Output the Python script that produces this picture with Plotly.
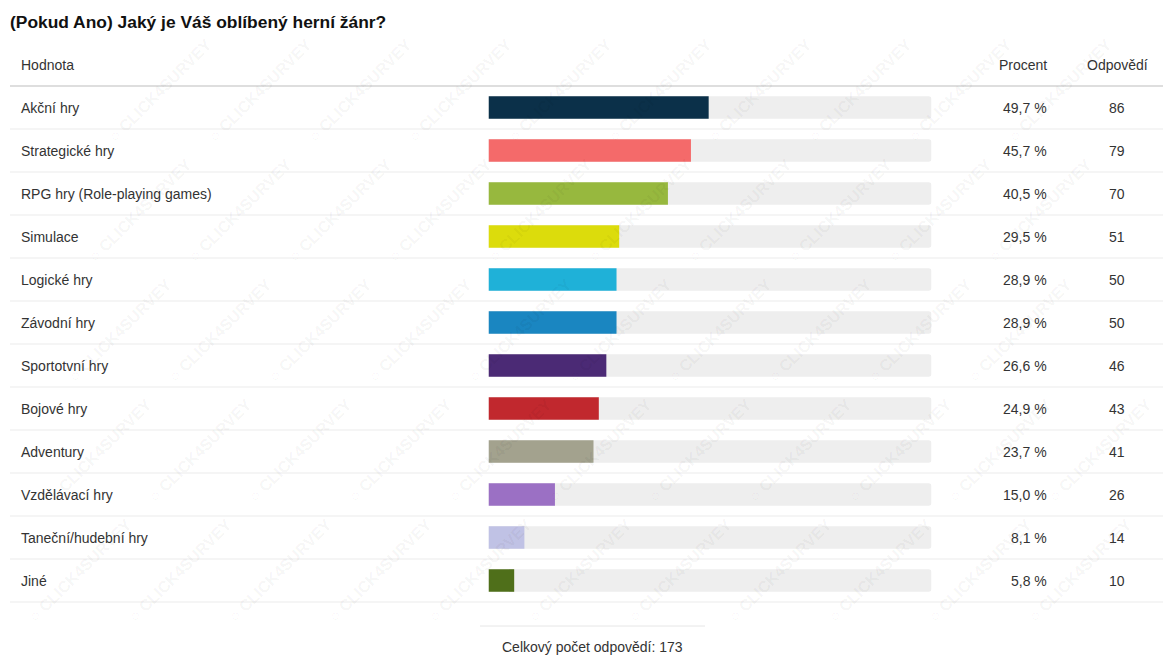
import plotly.graph_objects as go

# Survey results: favourite game genre
title = "(Pokud Ano) Jaký je Váš oblíbený herní žánr?"
categories = [
    "Akční hry",
    "Strategické hry",
    "RPG hry (Role-playing games)",
    "Simulace",
    "Logické hry",
    "Závodní hry",
    "Sportotvní hry",
    "Bojové hry",
    "Adventury",
    "Vzdělávací hry",
    "Taneční/hudební hry",
    "Jiné",
]
percent = [49.7, 45.7, 40.5, 29.5, 28.9, 28.9, 26.6, 24.9, 23.7, 15.0, 8.1, 5.8]
responses = [86, 79, 70, 51, 50, 50, 46, 43, 41, 26, 14, 10]
total_responses = 173
bar_colors = [
    "#0b3049", "#f46a6a", "#97b83e", "#dcdc0c", "#1fb1d8", "#1a86c1",
    "#4b2a75", "#c1282e", "#a3a28e", "#9b70c4", "#c0c2e5", "#4f6f1a",
]
col_headers = ["Hodnota", "Procent", "Odpovědí"]
watermark = "○ CLICK4SURVEY"

W, H = 1163, 657
FONT = "Liberation Sans, Arial, sans-serif"
TEXT = "#333333"
FS = 14


def px(x):
    return x / W


def py(y):
    return 1 - y / H


ROW_TOP, ROW_H = 86, 43
n = len(categories)

fig = go.Figure()

# grey track behind every bar (full 100 %)
fig.add_trace(go.Bar(
    y=categories, x=[100] * n, orientation="h",
    marker=dict(color="#eeeeee", cornerradius=3, line=dict(width=0)),
    width=0.525, hoverinfo="skip", showlegend=False,
))
# value bars
fig.add_trace(go.Bar(
    y=categories, x=percent, orientation="h",
    marker=dict(color=bar_colors, cornerradius=3, line=dict(width=0)),
    width=0.525, hoverinfo="skip", showlegend=False,
))

annotations = []
shapes = []

# faint diagonal watermark tiles, kept fully inside the page
for i in range(-10, 14):
    for j in range(-6, 18):
        cx = 20 + i * 120 + j * 100
        cy = 330 - i * 120
        if 62 <= cx <= W - 62 and 62 <= cy <= H - 62:
            annotations.append(dict(
                x=px(cx), y=py(cy), xref="paper", yref="paper",
                text=f"<b>{watermark}</b>", showarrow=False, textangle=-45,
                font=dict(family=FONT, size=16, color="rgba(0,0,0,0.05)"),
                xanchor="center", yanchor="middle",
            ))

# title
annotations.append(dict(
    x=px(8), y=py(22), xref="paper", yref="paper", text=f"<b>{title}</b>",
    showarrow=False, xanchor="left", yanchor="middle",
    font=dict(family=FONT, size=17.4, color="#111111"),
))
# column headers
annotations.append(dict(
    x=px(19), y=py(65), xref="paper", yref="paper", text=col_headers[0],
    showarrow=False, xanchor="left", yanchor="middle",
    font=dict(family=FONT, size=FS, color=TEXT),
))
annotations.append(dict(
    x=px(1049), y=py(65), xref="paper", yref="paper", text=col_headers[1],
    showarrow=False, xanchor="right", yanchor="middle",
    font=dict(family=FONT, size=FS, color=TEXT),
))
annotations.append(dict(
    x=px(1117), y=py(65), xref="paper", yref="paper", text=col_headers[2],
    showarrow=False, xanchor="center", yanchor="middle",
    font=dict(family=FONT, size=FS, color=TEXT),
))

# row texts
for cat, p, r in zip(categories, percent, responses):
    annotations.append(dict(
        x=px(19), y=cat, xref="paper", yref="y", text=cat,
        showarrow=False, xanchor="left", yanchor="middle",
        font=dict(family=FONT, size=FS, color=TEXT),
    ))
    annotations.append(dict(
        x=px(1049), y=cat, xref="paper", yref="y",
        text=f"{p:.1f}".replace(".", ",") + " %",
        showarrow=False, xanchor="right", yanchor="middle",
        font=dict(family=FONT, size=FS, color=TEXT),
    ))
    annotations.append(dict(
        x=px(1117), y=cat, xref="paper", yref="y", text=str(r),
        showarrow=False, xanchor="center", yanchor="middle",
        font=dict(family=FONT, size=FS, color=TEXT),
    ))

# footer total
annotations.append(dict(
    x=px(592), y=py(647), xref="paper", yref="paper",
    text=f"Celkový počet odpovědí: {total_responses}",
    showarrow=False, xanchor="center", yanchor="middle",
    font=dict(family=FONT, size=FS, color=TEXT),
))

# header rule and row separators
shapes.append(dict(type="line", xref="paper", yref="paper",
                   x0=px(10), x1=px(1163), y0=py(86), y1=py(86),
                   line=dict(color="#dedede", width=2)))
for k in range(1, n + 1):
    yy = ROW_TOP + k * ROW_H
    shapes.append(dict(type="line", xref="paper", yref="paper",
                       x0=px(10), x1=px(1163), y0=py(yy), y1=py(yy),
                       line=dict(color="#ebebeb", width=1)))
# short rule above the total
shapes.append(dict(type="line", xref="paper", yref="paper",
                   x0=px(480), x1=px(705), y0=py(626), y1=py(626),
                   line=dict(color="#e6e6e6", width=1)))

fig.update_layout(
    width=W, height=H,
    margin=dict(l=0, r=0, t=0, b=0),
    paper_bgcolor="white", plot_bgcolor="rgba(0,0,0,0)",
    barmode="overlay",
    xaxis=dict(domain=[px(488.5), px(931.5)], range=[0, 100],
               visible=False, fixedrange=True),
    yaxis=dict(domain=[py(ROW_TOP + n * ROW_H), py(ROW_TOP)],
               type="category", categoryorder="array", categoryarray=categories,
               range=[n - 0.5, -0.5], visible=False, fixedrange=True),
    annotations=annotations,
    shapes=shapes,
    showlegend=False,
)

fig.write_html("out.html", config={"displayModeBar": False})
